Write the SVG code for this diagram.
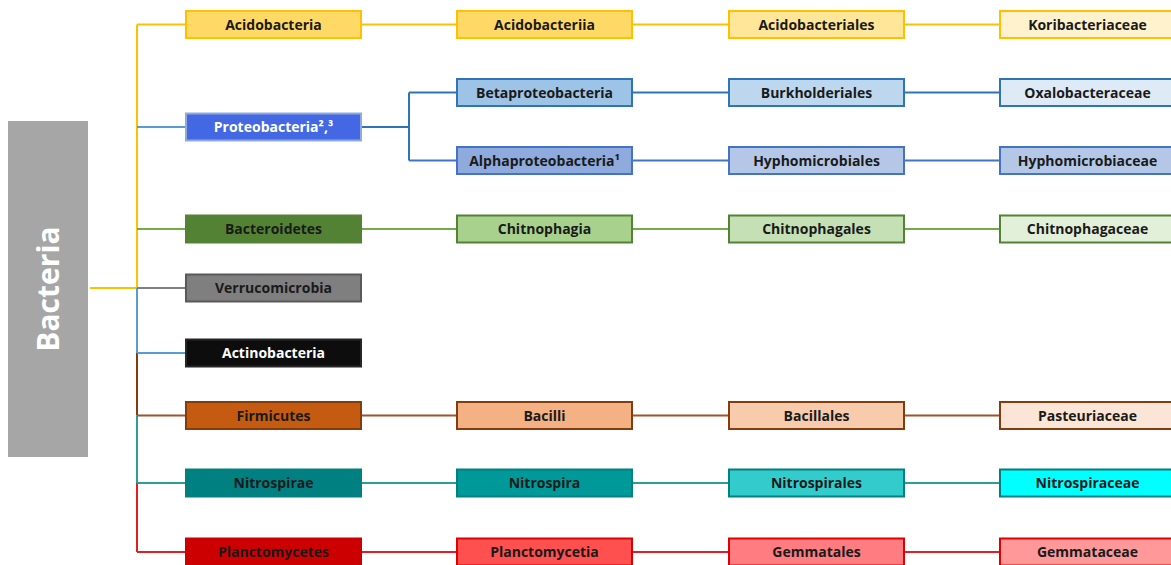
<svg xmlns="http://www.w3.org/2000/svg" width="1171" height="565" viewBox="0 0 1171 565">
<style>
.t{font-family:"Open Sans","Liberation Sans",sans-serif;font-weight:bold;font-size:14px;text-anchor:middle;fill:#1a1a1a}
.w{fill:#ffffff}
.b{stroke-width:2}
.l{fill:none;stroke-width:2}
</style>
<rect width="1171" height="565" fill="#ffffff"/>
<g id="connectors">
  <line class="l" x1="90" y1="288" x2="138" y2="288" stroke="#FFC000"/>
  <path class="l" d="M137 24.5V288" stroke="#FFC000"/>
  <path class="l" d="M137 288V353" stroke="#5B9BD5"/>
  <path class="l" d="M137 353V415.5" stroke="#843C0C"/>
  <path class="l" d="M137 415.5V483" stroke="#2E9C9C"/>
  <path class="l" d="M137 483V552" stroke="#E02020"/>
  <line class="l" x1="137" y1="24.5" x2="186" y2="24.5" stroke="#FFC000"/>
  <line class="l" x1="137" y1="127" x2="186" y2="127" stroke="#5B9BD5"/>
  <line class="l" x1="137" y1="229" x2="186" y2="229" stroke="#70AD47"/>
  <line class="l" x1="137" y1="288" x2="186" y2="288" stroke="#7F7F7F"/>
  <line class="l" x1="137" y1="353" x2="186" y2="353" stroke="#5B9BD5"/>
  <line class="l" x1="137" y1="415.5" x2="186" y2="415.5" stroke="#A0522D"/>
  <line class="l" x1="137" y1="483" x2="186" y2="483" stroke="#2E9C9C"/>
  <line class="l" x1="137" y1="552" x2="186" y2="552" stroke="#E02020"/>
  <path class="l" d="M361 24.5H457M632 24.5H729M904 24.5H1000" stroke="#FFC000"/>
  <path class="l" d="M361 127H409M409 92.5V160.5M409 92.5H457M632 92.5H729M904 92.5H1000" stroke="#2E75B6"/>
  <path class="l" d="M409 160.5H457M632 160.5H729M904 160.5H1000" stroke="#4472C4"/>
  <path class="l" d="M361 229H457M632 229H729M904 229H1000" stroke="#70AD47"/>
  <path class="l" d="M361 415.5H457M632 415.5H729M904 415.5H1000" stroke="#A0522D"/>
  <path class="l" d="M361 483H457M632 483H729M904 483H1000" stroke="#2E9C9C"/>
  <path class="l" d="M361 552H457M632 552H729M904 552H1000" stroke="#E02020"/>
</g>
<g id="bacteria">
  <rect x="8" y="121" width="80" height="336" fill="#A6A6A6"/>
  <text transform="translate(59,289) rotate(-90)" style="font-family:'Open Sans','Liberation Sans',sans-serif;font-weight:bold;font-size:30px;fill:#ffffff;text-anchor:middle">Bacteria</text>
</g>
<g id="acidobacteria"><rect class="b" x="186" y="11" width="175" height="27" fill="#FFD966" stroke="#FFC000"/><text class="t" x="273.5" y="29.5">Acidobacteria</text></g>
<g id="acidobacteriia"><rect class="b" x="457" y="11" width="175" height="27" fill="#FFD966" stroke="#FFC000"/><text class="t" x="544.5" y="29.5">Acidobacteriia</text></g>
<g id="acidobacteriales"><rect class="b" x="729" y="11" width="175" height="27" fill="#FFE699" stroke="#FFC000"/><text class="t" x="816.5" y="29.5">Acidobacteriales</text></g>
<g id="koribacteriaceae"><rect class="b" x="1000" y="11" width="175" height="27" fill="#FFF2CC" stroke="#FFC000"/><text class="t" x="1087.5" y="29.5">Koribacteriaceae</text></g>

<g id="proteobacteria"><rect class="b" x="186" y="113.5" width="175" height="27" fill="#4468E3" stroke="#8FAADC"/><text class="t w" x="273.5" y="132">Proteobacteria²,³</text></g>
<g id="betaproteobacteria"><rect class="b" x="457" y="79" width="175" height="27" fill="#9DC3E6" stroke="#2E75B6"/><text class="t" x="544.5" y="97.5">Betaproteobacteria</text></g>
<g id="burkholderiales"><rect class="b" x="729" y="79" width="175" height="27" fill="#BDD7EE" stroke="#2E75B6"/><text class="t" x="816.5" y="97.5">Burkholderiales</text></g>
<g id="oxalobacteraceae"><rect class="b" x="1000" y="79" width="175" height="27" fill="#DEEBF7" stroke="#2E75B6"/><text class="t" x="1087.5" y="97.5">Oxalobacteraceae</text></g>
<g id="alphaproteobacteria"><rect class="b" x="457" y="147" width="175" height="27" fill="#8FAADC" stroke="#4472C4"/><text class="t" x="544.5" y="165.5">Alphaproteobacteria¹</text></g>
<g id="hyphomicrobiales"><rect class="b" x="729" y="147" width="175" height="27" fill="#B4C7E7" stroke="#4472C4"/><text class="t" x="816.5" y="165.5">Hyphomicrobiales</text></g>
<g id="hyphomicrobiaceae"><rect class="b" x="1000" y="147" width="175" height="27" fill="#B4C7E7" stroke="#4472C4"/><text class="t" x="1087.5" y="165.5">Hyphomicrobiaceae</text></g>

<g id="bacteroidetes"><rect class="b" x="186" y="215.5" width="175" height="27" fill="#548235" stroke="#548235"/><text class="t" x="273.5" y="234">Bacteroidetes</text></g>
<g id="chitnophagia"><rect class="b" x="457" y="215.5" width="175" height="27" fill="#A9D18E" stroke="#548235"/><text class="t" x="544.5" y="234">Chitnophagia</text></g>
<g id="chitnophagales"><rect class="b" x="729" y="215.5" width="175" height="27" fill="#C5E0B4" stroke="#548235"/><text class="t" x="816.5" y="234">Chitnophagales</text></g>
<g id="chitnophagaceae"><rect class="b" x="1000" y="215.5" width="175" height="27" fill="#E2F0D9" stroke="#548235"/><text class="t" x="1087.5" y="234">Chitnophagaceae</text></g>

<g id="verrucomicrobia"><rect class="b" x="186" y="274.5" width="175" height="27" fill="#7F7F7F" stroke="#595959"/><text class="t" x="273.5" y="293">Verrucomicrobia</text></g>
<g id="actinobacteria"><rect class="b" x="186" y="339.5" width="175" height="27" fill="#0D0D0D" stroke="#262626"/><text class="t w" x="273.5" y="358">Actinobacteria</text></g>

<g id="firmicutes"><rect class="b" x="186" y="402" width="175" height="27" fill="#C55A11" stroke="#843C0C"/><text class="t" x="273.5" y="420.5">Firmicutes</text></g>
<g id="bacilli"><rect class="b" x="457" y="402" width="175" height="27" fill="#F4B183" stroke="#843C0C"/><text class="t" x="544.5" y="420.5">Bacilli</text></g>
<g id="bacillales"><rect class="b" x="729" y="402" width="175" height="27" fill="#F8CBAD" stroke="#843C0C"/><text class="t" x="816.5" y="420.5">Bacillales</text></g>
<g id="pasteuriaceae"><rect class="b" x="1000" y="402" width="175" height="27" fill="#FBE5D6" stroke="#843C0C"/><text class="t" x="1087.5" y="420.5">Pasteuriaceae</text></g>

<g id="nitrospirae"><rect class="b" x="186" y="469.5" width="175" height="27" fill="#008080" stroke="#008080"/><text class="t" x="273.5" y="488">Nitrospirae</text></g>
<g id="nitrospira"><rect class="b" x="457" y="469.5" width="175" height="27" fill="#009999" stroke="#008080"/><text class="t" x="544.5" y="488">Nitrospira</text></g>
<g id="nitrospirales"><rect class="b" x="729" y="469.5" width="175" height="27" fill="#33CCCC" stroke="#008080"/><text class="t" x="816.5" y="488">Nitrospirales</text></g>
<g id="nitrospiraceae"><rect class="b" x="1000" y="469.5" width="175" height="27" fill="#00FFFF" stroke="#008080"/><text class="t" x="1087.5" y="488">Nitrospiraceae</text></g>

<g id="planctomycetes"><rect class="b" x="186" y="538.5" width="175" height="27" fill="#CC0000" stroke="#CC0000"/><text class="t" x="273.5" y="557">Planctomycetes</text></g>
<g id="planctomycetia"><rect class="b" x="457" y="538.5" width="175" height="27" fill="#FF5050" stroke="#E00000"/><text class="t" x="544.5" y="557">Planctomycetia</text></g>
<g id="gemmatales"><rect class="b" x="729" y="538.5" width="175" height="27" fill="#FF7C80" stroke="#E00000"/><text class="t" x="816.5" y="557">Gemmatales</text></g>
<g id="gemmataceae"><rect class="b" x="1000" y="538.5" width="175" height="27" fill="#FF9999" stroke="#E00000"/><text class="t" x="1087.5" y="557">Gemmataceae</text></g>
</svg>
